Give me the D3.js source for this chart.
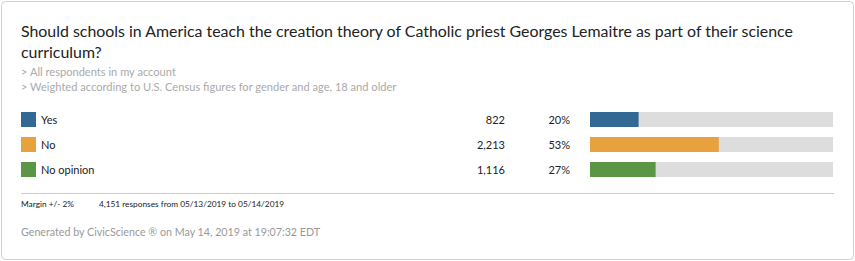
<!DOCTYPE html>
<meta charset="utf-8">
<script src="https://d3js.org/d3.v7.min.js"></script>
<style>
body { margin: 0; background: white; }
svg text { font-family: Lato, "Open Sans", sans-serif; }
</style>
<div id="chart"></div>
<script>
// data
var answers = ["Yes", "No", "No opinion"];
var counts = [822, 2213, 1116];
var shares = [0.20, 0.53, 0.27];
var colors = ["#316894", "#e8a23d", "#5b9647"];
var titleLines = ["Should schools in America teach the creation theory of Catholic priest Georges Lemaitre as part of their science", "curriculum?"];
var notes = ["> All respondents in my account", "> Weighted according to U.S. Census figures for gender and age, 18 and older"];
var margin = "Margin +/- 2%";
var responses = "4,151 responses from 05/13/2019 to 05/14/2019";
var footer = "Generated by CivicScience \u00ae on May 14, 2019 at 19:07:32 EDT";

var width = 855, height = 261;
var svg = d3.select("#chart").append("svg")
  .attr("width", width)
  .attr("height", height);

svg.append("rect")
  .attr("x", 1.5).attr("y", 1.5)
  .attr("width", width - 3).attr("height", height - 3)
  .attr("rx", 4)
  .attr("fill", "white")
  .attr("stroke", "#d0d0d0");

// title
svg.append("g").selectAll("text")
  .data(titleLines)
  .join("text")
    .attr("x", 21)
    .attr("y", function(d, i) { return 37 + i * 21; })
    .attr("font-size", 15.9)
    .attr("fill", "#222")
    .text(function(d) { return d; });

svg.append("g").selectAll("text")
  .data(notes)
  .join("text")
    .attr("x", 21)
    .attr("y", function(d, i) { return 76 + i * 15; })
    .attr("font-size", 11.1)
    .attr("fill", "#aaa")
    .text(function(d) { return d; });

// rows
var y = d3.scaleBand()
  .domain(answers)
  .range([112, 177])
  .paddingInner(0.4)
  .paddingOuter(0);
var x = d3.scaleLinear().domain([0, 1]).range([590, 833]);
var fmt = d3.format(",");

var rows = svg.append("g").selectAll("g")
  .data(answers)
  .join("g");

rows.append("rect")
  .attr("x", 21)
  .attr("y", function(d) { return y(d); })
  .attr("width", 15)
  .attr("height", y.bandwidth())
  .attr("fill", function(d, i) { return colors[i]; });

rows.append("text")
  .attr("x", 41)
  .attr("y", function(d) { return y(d) + y.bandwidth() / 2 + 4; })
  .attr("font-size", 11)
  .attr("fill", "#222")
  .text(function(d) { return d; });

rows.append("text")
  .attr("x", 505)
  .attr("y", function(d) { return y(d) + y.bandwidth() / 2 + 4; })
  .attr("text-anchor", "end")
  .attr("font-size", 11)
  .attr("fill", "#222")
  .text(function(d, i) { return fmt(counts[i]); });

rows.append("text")
  .attr("x", 570)
  .attr("y", function(d) { return y(d) + y.bandwidth() / 2 + 4; })
  .attr("text-anchor", "end")
  .attr("font-size", 11)
  .attr("fill", "#222")
  .text(function(d, i) { return d3.format(".0%")(shares[i]); });

rows.append("rect")
  .attr("x", x(0))
  .attr("y", function(d) { return y(d); })
  .attr("width", x(1) - x(0))
  .attr("height", y.bandwidth())
  .attr("fill", "#dddddd");

rows.append("rect")
  .attr("x", x(0))
  .attr("y", function(d) { return y(d); })
  .attr("width", function(d, i) { return x(shares[i]) - x(0); })
  .attr("height", y.bandwidth())
  .attr("fill", function(d, i) { return colors[i]; });

// separator + footer
svg.append("line")
  .attr("x1", 21).attr("x2", 834)
  .attr("y1", 193.5).attr("y2", 193.5)
  .attr("stroke", "#ccc");

svg.append("text")
  .attr("x", 21).attr("y", 207)
  .attr("font-size", 8.3)
  .attr("fill", "#222")
  .text(margin);

svg.append("text")
  .attr("x", 99).attr("y", 207)
  .attr("font-size", 8.3)
  .attr("fill", "#222")
  .text(responses);

svg.append("text")
  .attr("x", 21).attr("y", 236)
  .attr("font-size", 10.7)
  .attr("fill", "#999")
  .text(footer);
</script>
